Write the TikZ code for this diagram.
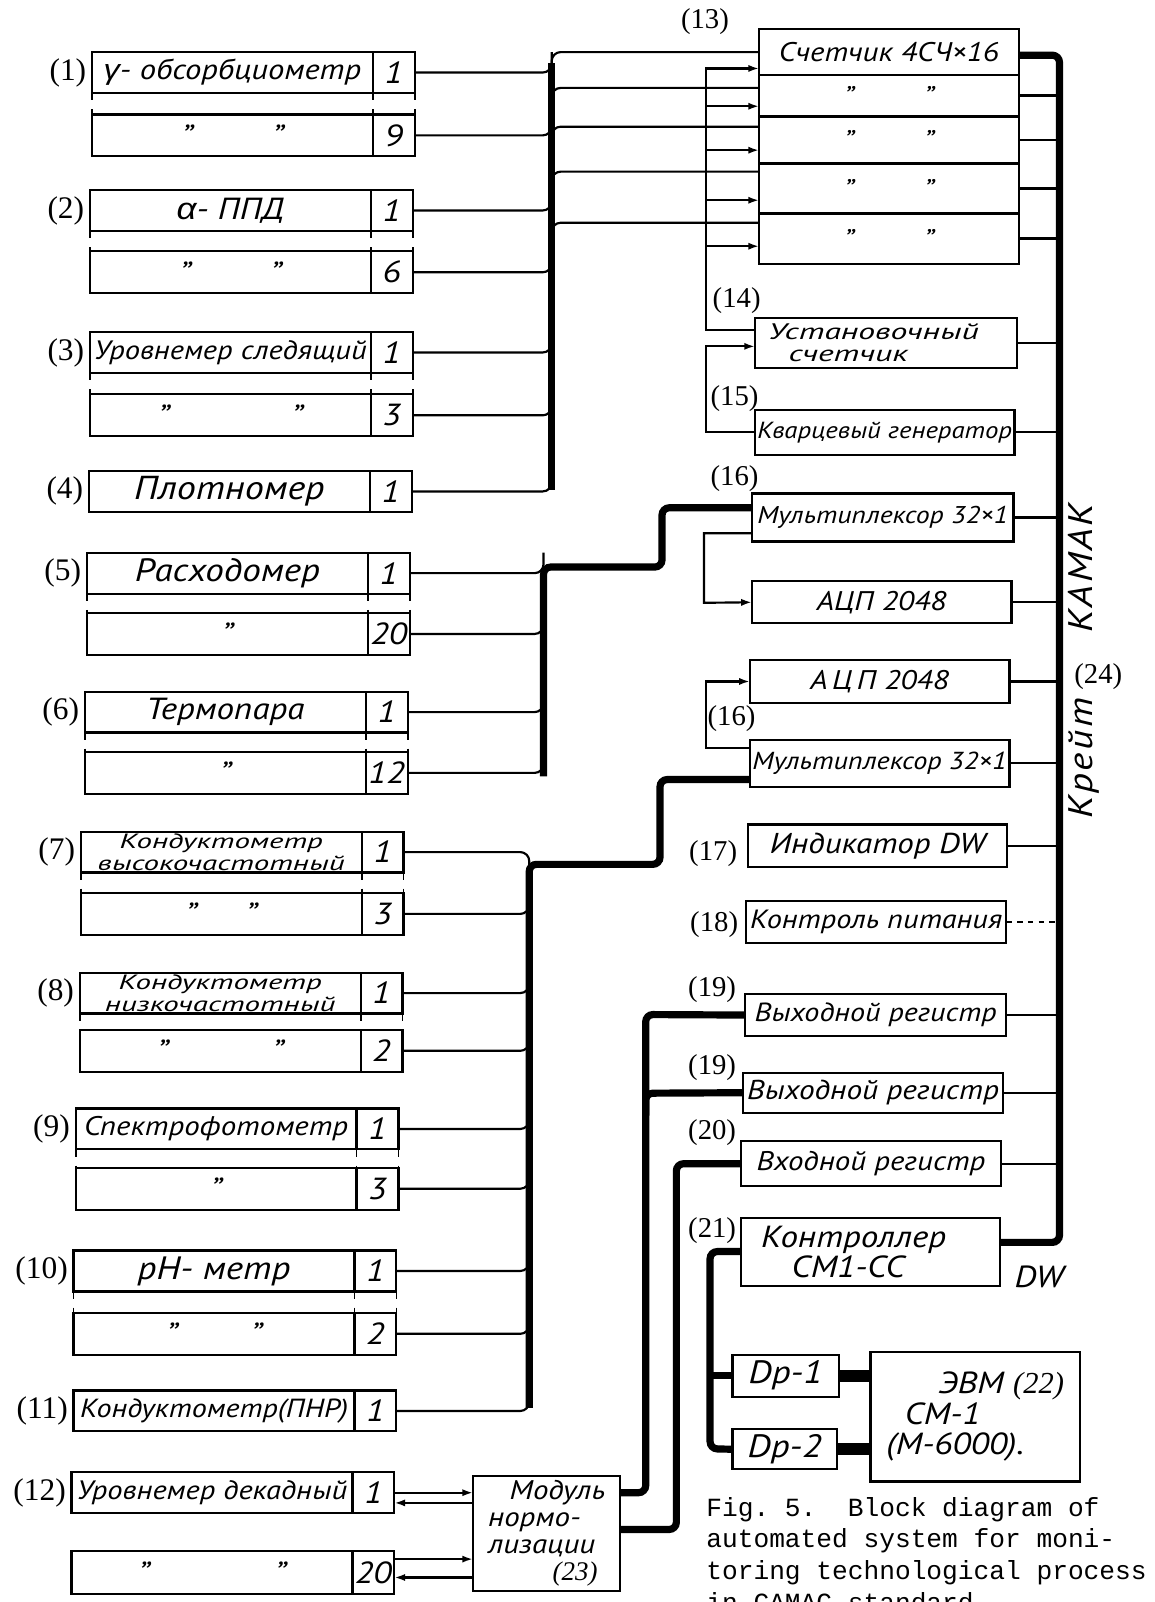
\documentclass[tikz,border=0pt]{standalone}
\usepackage{fontspec}
\setmainfont{PT Sans}[FakeStretch=1.15]
\newfontfamily\tagfont{Liberation Serif}
\newfontfamily\capfont{Liberation Mono}
\newfontfamily\grkfont{Liberation Sans}[FakeStretch=1.15]
\usetikzlibrary{positioning}
\usetikzlibrary{arrows.meta}

\def\px{0.02cm}

\begin{document}
\begin{tikzpicture}[x=0.02cm, y=-0.02cm]
    \tikzset{
    block/.style=
    {
        draw,
        line width=1.2pt,
        inner sep=0pt,
        outer sep=0pt,
        anchor=north west,
        font=\itshape\fontsize{17}{17}\selectfont
    },
    hand/.style=
    {
        font=\itshape\fontsize{#1}{#1}\selectfont
    },
    wide/.style=
    {
        font=\itshape\fontsize{#1}{12}\selectfont\addfontfeatures{FakeStretch=1.5}
    },
    tag/.style=
    {
        inner sep=0pt,
        font=\tagfont\fontsize{16}{16}\selectfont
    },
    bigtag/.style=
    {
        inner sep=0pt,
        font=\tagfont\fontsize{17.5}{17.5}\selectfont
    },
    wire/.style=
    {
        line width=1.2pt
    },
    tap/.style=
    {
        line width=1.2pt,
        rounded corners=5pt
    },
    trunk/.style=
    {
        line width=4pt,
        rounded corners=4pt
    },
    fat/.style=
    {
        line width=6.5pt
    },
    gap/.style=
    {
        line width=1pt,
        dash pattern=on 4pt off 5pt
    },
    feed/.style=
    {
        line width=1.2pt,
        -{Latex[length=6pt,width=4pt]}
    }
}

  \useasboundingbox (0,0) rectangle (1130,1568);
  \clip (0,0) rectangle (1130,1568);

  % sensors, first channel of each group
  \foreach \i/\x/\y/\f/\txt in {
      1/90/51/15.8/{{\grkfont γ}- обсорбциометр},
      2/88/186/17/{{\grkfont α}- ППД},
      3/88/325/14.8/{Уровнемер следящий},
      4/87/461/18.5/Плотномер,
      5/85/541/18/Расходомер,
      6/83/677/17/Термопара,
      9/74/1085/15/Спектрофотометр,
      10/72/1224/18/{pH- метр},
      11/72/1361/14.6/{Кондуктометр(ПНР)},
      12/70/1441/14.8/{Уровнемер декадный}}
  {
    \node[block, hand=\f, minimum width=275*\px, minimum height=40*\px] (s\i) at (\x,\y) {\txt};
    \node[block, minimum width=41*\px, minimum height=40*\px, right=0pt of s\i] (n\i) {1};
    \node[bigtag, left=3pt of s\i] (t\i) {(\i)};
  }
  \node[block, wide=11.5, align=center, minimum width=275*\px, minimum height=40*\px] (s7) at (79,814) {Кондуктометр\\высокочастотный};
  \node[block, minimum width=41*\px, minimum height=40*\px, right=0pt of s7] (n7) {1};
  \node[bigtag, left=3pt of s7] (t7) {(7)};
  \node[block, wide=11.5, align=center, minimum width=275*\px, minimum height=40*\px] (s8) at (78,952) {Кондуктометр\\низкочастотный};
  \node[block, minimum width=41*\px, minimum height=40*\px, right=0pt of s8] (n8) {1};
  \node[bigtag, left=3pt of s8] (t8) {(8)};

  % sensors, last channel of each group
  \foreach \i/\x/\y/\num/\dit in {
      1/90/112/9/{"\hspace{2.6em}"},
      2/88/246/6/{"\hspace{2.6em}"},
      3/88/386/3/{"\hspace{4em}"},
      5/85/600/20/{"},
      6/83/736/12/{"},
      7/79/874/3/{"\hspace{1.6em}"},
      8/78/1008/2/{"\hspace{3.4em}"},
      9/74/1143/3/{"},
      10/72/1285/2/{"\hspace{2.4em}"}}
  {
    \node[block, minimum width=275*\px, minimum height=41*\px] (d\i) at (\x,\y) {\dit};
    \node[block, minimum width=41*\px, minimum height=41*\px, right=0pt of d\i] (m\i) {\num};
    \draw[gap] (s\i.south west) -- (d\i.north west);
    \draw[gap] (s\i.south east) -- (d\i.north east);
    \draw[gap] (n\i.south east) -- (m\i.north east);
  }
  \node[block, minimum width=275*\px, minimum height=42*\px] (d12) at (70,1518) {"\hspace{4.1em}"};
  \node[block, minimum width=41*\px, minimum height=42*\px, right=0pt of d12] (m12) {20};

  % crate modules
  \foreach \k/\y/\h/\txt in {
      1/28/45/{Счетчик 4СЧ×16},
      2/73/41/{"\hspace{2.6em}"},
      3/114/46/{"\hspace{2.6em}"},
      4/160/49/{"\hspace{2.6em}"},
      5/209/49/{"\hspace{2.6em}"}}
    \node[block, hand=15, minimum width=254*\px, minimum height=\h*\px] (r\k) at (743,\y) {\txt};
  \node[block, wide=12.5, align=left, text width=230*\px, minimum width=256*\px, minimum height=49*\px] (s14) at (739,311) {Установочный\\\hspace*{0.9em}счетчик};
  \node[block, hand=13, minimum width=254*\px, minimum height=44*\px] (s15) at (739,401) {Кварцевый генератор};
  \node[block, hand=13.5, minimum width=256*\px, minimum height=47*\px] (mux1) at (736,483) {Мультиплексор 32×1};
  \node[block, hand=15, minimum width=254*\px, minimum height=41*\px] (adc1) at (736,569) {АЦП 2048};
  \node[block, hand=15, minimum width=254*\px, minimum height=42*\px] (adc2) at (734,646) {А\,Ц\,П 2048};
  \node[block, hand=13.7, minimum width=254*\px, minimum height=46*\px] (mux2) at (734,724) {Мультиплексор 32×1};
  \node[block, hand=16, minimum width=254*\px, minimum height=42*\px] (s17) at (732,807) {Индикатор DW};
  \node[block, hand=14.7, minimum width=255*\px, minimum height=41*\px] (s18) at (730,882) {Контроль питания};
  \node[block, hand=14.6, minimum width=256*\px, minimum height=41*\px] (s19a) at (729,973) {Выходной регистр};
  \node[block, hand=15.2, minimum width=255*\px, minimum height=39*\px] (s19b) at (727,1050) {Выходной регистр};
  \node[block, hand=15, minimum width=255*\px, minimum height=44*\px] (s20) at (725,1117) {Входной регистр};
  \node[block, hand=17, align=left, text width=214*\px, minimum width=254*\px, minimum height=67*\px] (s21) at (725,1192) {Контроллер\\\hspace*{1em}СМ1-СС};
  \node[block, hand=18, minimum width=104*\px, minimum height=41*\px] (dp1) at (717,1326) {Dp-1};
  \node[block, hand=18, minimum width=102*\px, minimum height=39*\px] (dp2) at (717,1399) {Dp-2};
  \node[block, hand=17, align=left, minimum width=205*\px, minimum height=127*\px] (evm) at (852,1323) {\hspace*{1.7em}ЭВМ {\tagfont (22)}\\\hspace*{0.6em}СМ-1\\(М-6000).};
  \node[block, hand=15, align=left, minimum width=144*\px, minimum height=112*\px] (mod) at (463,1445) {\hspace*{0.8em}Модуль\\нормо-\\лизации\\\hspace*{2.4em}{\tagfont (23)}};

  \node[tag] (t13) at (690,21) {(13)};
  \node[tag] (t14) at (721,294) {(14)};
  \node[tag] (t15) at (719,390) {(15)};
  \node[tag] (t16a) at (719,468) {(16)};
  \node[tag] (t16b) at (716,703) {(16)};
  \node[tag] (t17) at (698,835) {(17)};
  \node[tag] (t18) at (699,905) {(18)};
  \node[tag] (t19a) at (697,969) {(19)};
  \node[tag] (t19b) at (697,1045) {(19)};
  \node[tag] (t20) at (697,1109) {(20)};
  \node[tag] (t21) at (697,1204) {(21)};
  \node[tag] (t24) at (1075,662) {(24)};
  \node[hand=19, rotate=90] (crt) at (1061,647) {\addfontfeatures{LetterSpace=8}Крейт\hspace{1.9em}КАМАК};
  \node[hand=17] (dw) at (1017,1250) {DW};

  \coordinate (busA) at (540,0);
  \coordinate (busB) at (532,0);
  \coordinate (busC) at (518,0);
  \coordinate (crate) at (1037,0);
  \coordinate (ctl) at (695,0);

  % groups 1-4 to the counters
  \draw[trunk] (540,480) -- (540,62);
  \foreach \n in {n1,m1,n2,m2,n3,m3,n4}
    \draw[tap] (\n.east) -- (\n.east -| busA) -- ++(0,-20);
  \foreach \k/\y in {1/51,2/86,3/124,4/168,5/218}
    \draw[tap] (540,\y+20) -- (540,\y) -- (r\k.west |- 0,\y);
  \draw[feed] (s14.west |- 0,323) -| (691,67) -- (r1.west |- 0,67);
  \foreach \k/\y in {2/104,3/147,4/196,5/241}
    \draw[feed] (691,\y) -- (r\k.west |- 0,\y);
  \draw[feed] (s15.west) -| (691,339) -- (s14.west |- 0,339);

  % groups 5-6 and 7-11 to the multiplexers
  \draw[trunk] (532,760) -- (532,555) -- (648,555) -- (648,497) -- (mux1.west |- 0,497);
  \foreach \n in {n5,m5,n6,m6}
    \draw[tap] (\n.east) -- (\n.east -| busB) -- ++(0,-20);
  \draw[trunk] (518,1378) -- (518,846) -- (646,846) -- (646,763) -- (mux2.west |- 0,763);
  \draw[tap] (n7.east) -- (n7.east -| busC) -- ++(0,20);
  \foreach \n in {m7,n8,m8,n9,m9,n10,m10,n11}
    \draw[tap] (\n.east) -- (\n.east -| busC) -- ++(0,-20);
  \draw[feed] (mux1.west |- 0,522) -| (689,590) -- (adc1.west);
  \draw[feed] (mux2.west |- 0,732) -| (691,667) -- (adc2.west);

  % group 12 and the normalisation module
  \draw[feed] (n12.east |- 0,1461) -- (mod.west |- 0,1461);
  \draw[feed] (mod.west |- 0,1471) -- (n12.east |- 0,1471);
  \draw[feed] (m12.east |- 0,1526) -- (mod.west |- 0,1526);
  \draw[feed] (mod.west |- 0,1544) -- (m12.east |- 0,1544);
  \draw[trunk] (mod.east |- 0,1461) -- (632,1461) -- (632,993) -- (s19a.west);
  \draw[trunk] (632,1092) -- (632,1070) -- (s19b.west);
  \draw[trunk] (mod.east |- 0,1497) -- (662,1497) -- (662,1139) -- (s20.west);

  % crate dataway
  \draw[trunk] (r1.east |- 0,54) -- (1037,54) -- (1037,1216) -- (s21.east |- 0,1216);
  \foreach \b in {r2,r3,r4,r5,s14,s15,mux1,adc1,adc2,mux2,s17,s19a,s19b,s20}
    \draw[wire] (\b.east) -- (\b.east -| crate);
  \draw[wire, dashed] (s18.east) -- (s18.east -| crate);

  % controller to computer
  \draw[trunk] (s21.west |- 0,1225) -- (695,1225) -- (695,1418) -- (dp2.west);
  \draw[trunk] (dp1.west) -- (dp1.west -| ctl);
  \draw[fat] (dp1.east) -- (dp1.east -| evm.west);
  \draw[fat] (dp2.east) -- (dp2.east -| evm.west);

  \node[anchor=base west, inner sep=0pt, font=\capfont\fontsize{14.6}{17.6}\selectfont\frenchspacing] (cap1) at (691,1484) {Fig. 5.\ \ Block diagram of};
  \node[anchor=base west, inner sep=0pt, font=\capfont\fontsize{14.6}{17.6}\selectfont\frenchspacing] (cap2) at (691,1515) {automated system for moni-};
  \node[anchor=base west, inner sep=0pt, font=\capfont\fontsize{14.6}{17.6}\selectfont\frenchspacing] (cap3) at (691,1546) {toring technological process};
  \node[anchor=base west, inner sep=0pt, font=\capfont\fontsize{14.6}{17.6}\selectfont\frenchspacing] (cap4) at (691,1577) {in CAMAC standard.};

\end{tikzpicture}
\end{document}
